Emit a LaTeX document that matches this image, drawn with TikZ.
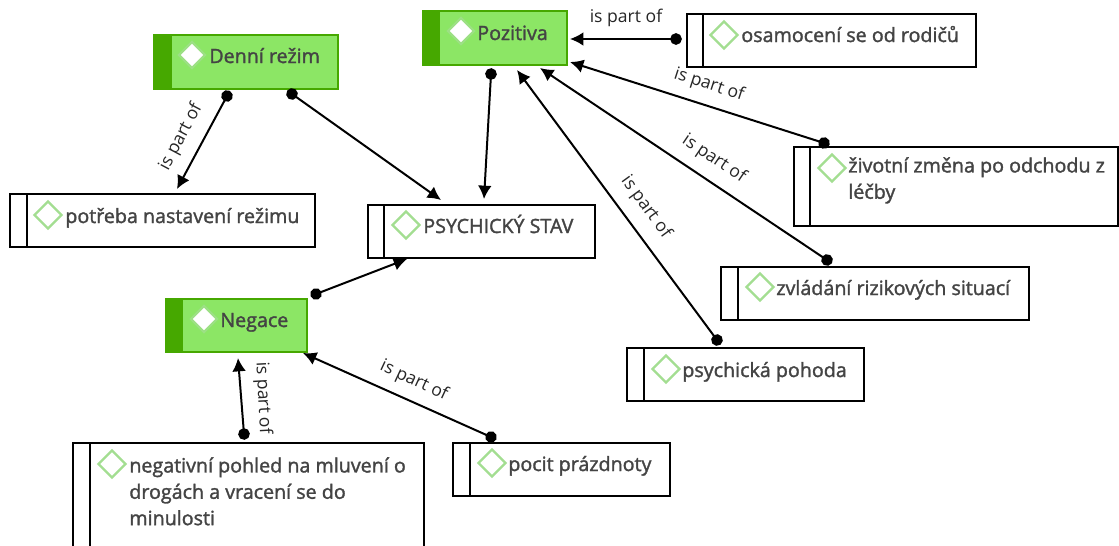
\documentclass[tikz,border=0pt]{standalone}
\usepackage{fontspec}
\setmainfont{Open Sans}
\newfontfamily\boxfont{Open Sans}[FakeBold=1.6]
\usetikzlibrary{positioning,arrows.meta,shapes.geometric}
\definecolor{leafgreen}{HTML}{8CE665}
\definecolor{stripgreen}{HTML}{46A800}
\definecolor{marklight}{HTML}{A3DE91}
\definecolor{inkgrey}{HTML}{444444}
\tikzset{
  partbox/.style={draw=black,line width=1.9pt*0.567,inner sep=0pt,outer sep=0pt,fill=white},
  topicbox/.style={draw=stripgreen,line width=1.9pt*0.567,inner sep=0pt,outer sep=0pt,fill=leafgreen},
  partmark/.style={diamond,aspect=1,draw=marklight,line width=2.4pt*0.567,fill=white,inner sep=0pt,minimum size=0.56cm},
  topicmark/.style={partmark,draw=marklight!70!leafgreen,minimum size=0.54cm},
  boxtext/.style={anchor=base west,inner sep=0pt,text=inkgrey,font=\boxfont\fontsize{11.2}{15}\selectfont,align=left},
  longtext/.style={boxtext,anchor=north west},
  partlabel/.style={inner sep=0pt,text=black!85,font=\fontsize{10}{12}\selectfont},
  partof/.style={{Circle[length=6.6pt]}-{Latex[length=7.6pt,width=7.8pt]},line width=2pt*0.567,black,shorten <=-3.3pt}
}
\begin{document}
\begin{tikzpicture}[x=0.02cm,y=-0.02cm]
    \useasboundingbox (0,0) rectangle (1119,545);
    \clip (0,0) rectangle (1119,545);
    % green topics
    \foreach \nm/\xa/\ya/\xb/\yb/\xs/\xm/\ym in {denni/154/35/338/89/172/192/55,pozitiva/423/11/567/65/440/461/31,negace/166/299/307/352/183/204/319}{
        \node (\nm) [topicbox,minimum width={(\xb-\xa)*0.02cm},minimum height={(\yb-\ya)*0.02cm}] at ({(\xa+\xb)/2},{(\ya+\yb)/2}) {};
        \fill [stripgreen] (\xa,\ya) rectangle (\xs,\yb);
        \node (\nm mark) [topicmark] at (\xm,\ym) {};
    }
    % white boxes
    \foreach \nm/\xa/\ya/\xb/\yb/\xs/\xm/\ym in {osamoceni/687/14/976/67/703/724/35,zivotni/794/147/1118/226/810/832/168,potreba/10/194/315/247/27/48/215,stav/368/205/595/258/384/406/225,zvladani/721/267/1029/320/738/760/287,pohoda/627/348/864/401/644/666/369,negativni/73/443/424/560/90/112/464,pocit/453/443/670/496/470/492/463}{
        \node (\nm) [partbox,minimum width={(\xb-\xa)*0.02cm},minimum height={(\yb-\ya)*0.02cm}] at ({(\xa+\xb)/2},{(\ya+\yb)/2}) {};
        \draw [line width=1.9pt*0.567] (\xs,\ya) -- (\xs,\yb);
        \node (\nm mark) [partmark] at (\xm,\ym) {};
    }
    % texts
    \node (dennitext) [boxtext] at (209,63) {Denní režim};
    \node (pozitivatext) [boxtext] at (477,40) {Pozitiva};
    \node (negacetext) [boxtext] at (220,327) {Negace};
    \node (osamocenitext) [boxtext] at (741,42) {osamocení se od rodičů};
    \node (zivotnitext) [longtext] at (848,157) {životní změna po odchodu z\\léčby};
    \node (potrebatext) [boxtext] at (65,223) {potřeba nastavení režimu};
    \node (stavtext) [boxtext] at (423,233) {PSYCHICKÝ STAV};
    \node (zvladanitext) [boxtext] at (776,295) {zvládání rizikových situací};
    \node (pohodatext) [boxtext] at (682,377) {psychická pohoda};
    \node (negativnitext) [longtext] at (129,457) {negativní pohled na mluvení o\\drogách a vracení se do\\minulosti};
    \node (pocittext) [boxtext] at (508,471) {pocit prázdnoty};
    % connector ends
    \coordinate (osamocenidot) at (676,39);  \coordinate (osamocenitip) at (570,39);
    \coordinate (zivotnidot) at (824,143);   \coordinate (zivotnitip) at (570,62);
    \coordinate (zvladanidot) at (827,260);  \coordinate (zvladanitip) at (540,68);
    \coordinate (pohodadot) at (717,340);    \coordinate (pohodatip) at (517,70);
    \coordinate (pozitivadot) at (491,74);   \coordinate (pozitivatip) at (484,199);
    \coordinate (dennidot) at (292,94);      \coordinate (dennitip) at (441,200);
    \coordinate (potrebadot) at (227,96);    \coordinate (potrebatip) at (177,189);
    \coordinate (negacedot) at (316,294);    \coordinate (negacetip) at (407,259);
    \coordinate (negativnidot) at (244,434); \coordinate (negativnitip) at (238,358);
    \coordinate (pocitdot) at (491,437);     \coordinate (pocittip) at (303,353);
    \foreach \nm in {osamoceni,zivotni,zvladani,pohoda,pozitiva,denni,potreba,negace,negativni,pocit}{
        \draw [partof] (\nm dot) -- (\nm tip);
    }
    % labels
    \node (labelosamoceni) [partlabel] at (626,18) {is part of};
    \node (labelzivotni) [partlabel,rotate=-18] at (709,85) {is part of};
    \node (labelzvladani) [partlabel,rotate=-34] at (714,159) {is part of};
    \node (labelpohoda) [partlabel,rotate=-54] at (646,207) {is part of};
    \node (labelpotreba) [partlabel,rotate=62] at (181,137) {is part of};
    \node (labelnegativni) [partlabel,rotate=-87] at (263,398) {is part of};
    \node (labelpocit) [partlabel,rotate=-25] at (414,381) {is part of};
\end{tikzpicture}
\end{document}
